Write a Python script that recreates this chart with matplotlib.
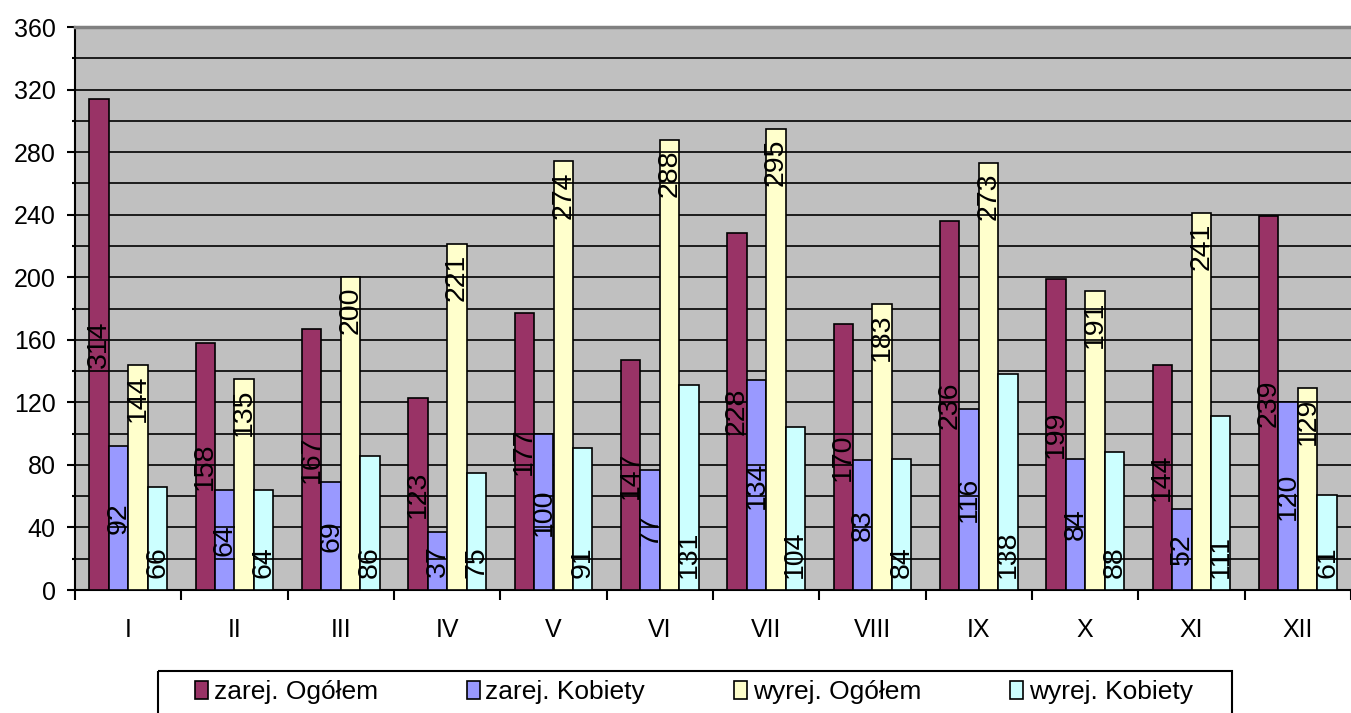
import numpy as np
import matplotlib
matplotlib.use("Agg")
import matplotlib.pyplot as plt
from matplotlib.patches import Rectangle
from matplotlib.ticker import MultipleLocator, FixedLocator, NullFormatter

plt.rcParams["font.family"] = ["Liberation Sans", "DejaVu Sans"]

months = ["I", "II", "III", "IV", "V", "VI", "VII", "VIII", "IX", "X", "XI", "XII"]
zarej_ogolem = [314, 158, 167, 123, 177, 147, 228, 170, 236, 199, 144, 239]
zarej_kobiety = [92, 64, 69, 37, 100, 77, 134, 83, 116, 84, 52, 120]
wyrej_ogolem = [144, 135, 200, 221, 274, 288, 295, 183, 273, 191, 241, 129]
wyrej_kobiety = [66, 64, 86, 75, 91, 131, 104, 84, 138, 88, 111, 61]

# name, values, colour, where the value label sits inside the bar
series = [
    ("zarej. Ogółem", zarej_ogolem, "#993366", "center"),
    ("zarej. Kobiety", zarej_kobiety, "#9999FF", "center"),
    ("wyrej. Ogółem", wyrej_ogolem, "#FFFFCC", "end"),
    ("wyrej. Kobiety", wyrej_kobiety, "#CCFFFF", "base"),
]

W, H = 1351, 713
fig = plt.figure(figsize=(W / 100, H / 100), dpi=100)
ax = fig.add_axes([75 / W, 1 - 590 / H, (W - 75) / W, (590 - 27) / H])
ax.set_facecolor("#C0C0C0")

x = np.arange(len(months))
width = 0.183
handles = []
labels = []
for k, (name, vals, col, pos) in enumerate(series):
    xs = x + (k - 1.5) * width
    bars = ax.bar(xs, vals, width, color=col, edgecolor="black",
                  linewidth=1.2, zorder=3, label=name)
    handles.append(bars)
    for xi, v in zip(xs, vals):
        if pos == "center":
            y, va, dy = v / 2, "center", 0
        elif pos == "end":
            y, va, dy = v, "top", -7
        else:
            y, va, dy = 0, "bottom", 8.5
        t = ax.annotate(str(v), (xi, y), xytext=(0, dy), textcoords="offset points",
                        rotation=90, ha="center", va=va, fontsize=20.5,
                        color="black", zorder=5)
        labels.append((t, xi))

ax.set_xlim(-0.5, 11.5)
ax.set_ylim(0, 360)

# y axis
ax.yaxis.set_major_locator(MultipleLocator(40))
ax.yaxis.set_minor_locator(MultipleLocator(20))
ax.tick_params(axis="y", which="major", direction="out", length=6, width=1.5,
               labelsize=18, pad=8)
ax.tick_params(axis="y", which="minor", direction="out", length=2, width=1.5)
ax.grid(True, axis="y", which="both", color="black", linewidth=1.2, zorder=1)
ax.set_axisbelow(True)

# x axis: ticks at category boundaries, labels in the middle
ax.xaxis.set_major_locator(FixedLocator(np.arange(-0.5, 12, 1)))
ax.xaxis.set_major_formatter(NullFormatter())
ax.xaxis.set_minor_locator(FixedLocator(x))
ax.set_xticklabels(months, minor=True)
ax.tick_params(axis="x", which="major", direction="out", length=7, width=1.5)
ax.tick_params(axis="x", which="minor", length=0, labelsize=18, pad=20)

for side in ["left", "bottom"]:
    ax.spines[side].set_color("black")
    ax.spines[side].set_linewidth(1.5)
ax.spines["top"].set_color("#808080")
ax.spines["top"].set_linewidth(2.5)
ax.spines["right"].set_visible(False)

# gridlines show through the value-label boxes, like the original export
fig.canvas.draw()
renderer = fig.canvas.get_renderer()
inv = ax.transData.inverted()
grid_vals = np.arange(20, 360, 20)
for t, xi in labels:
    bb = t.get_window_extent(renderer)
    y0 = inv.transform((0, bb.y0 - 3))[1]
    y1 = inv.transform((0, bb.y1 + 3))[1]
    inside = grid_vals[(grid_vals > y0) & (grid_vals < y1)]
    if len(inside):
        ax.hlines(inside, xi - width / 2, xi + width / 2, color="black",
                  linewidth=1.2, zorder=4)

# legend: frame drawn separately so it can run off the bottom edge
frame = Rectangle((158 / W, 1 - 671 / H), (1232 - 158) / W, -60 / H,
                  transform=fig.transFigure, fill=False, edgecolor="black",
                  linewidth=1.5, clip_on=False)
fig.add_artist(frame)
leg = fig.legend(handles=handles, loc="center left", ncol=4, mode="expand",
                 bbox_to_anchor=(190 / W, 1 - 692 / H, (1198 - 190) / W, 0),
                 borderaxespad=0, frameon=False, fontsize=19,
                 handlelength=0.5, handleheight=0.7, handletextpad=0.2,
                 borderpad=0.2, columnspacing=1.0)

fig.savefig("out.png", dpi=100)
